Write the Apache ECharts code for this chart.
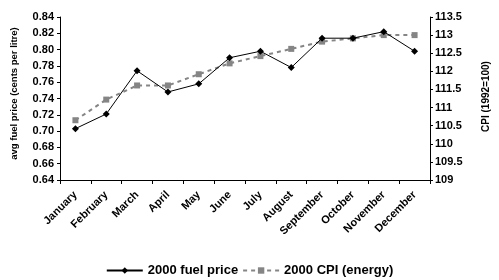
<!DOCTYPE html>
<html>
<head>
    <meta charset="utf-8" />
    <script src="https://cdn.jsdelivr.net/npm/echarts@6/dist/echarts.min.js"></script>
    <style>
        body { margin: 0; background: #fff; }
        #main { width: 499px; height: 280px; }
    </style>
</head>
<body>
<div id="main"></div>
<script type="text/javascript">
    let months = ['January', 'February', 'March', 'April', 'May', 'June', 'July', 'August', 'September', 'October', 'November', 'December']
    let fuelPrice = [0.703, 0.721, 0.774, 0.748, 0.758, 0.790, 0.798, 0.778, 0.814, 0.814, 0.822, 0.798]
    let cpiEnergy = [110.65, 111.22, 111.61, 111.61, 111.92, 112.22, 112.42, 112.62, 112.82, 112.91, 113.0, 113.0]

    let fontFamily = 'Liberation Sans, Arial, sans-serif'
    let colorFuel = '#000000'
    let colorCpi = '#858585'

    let myChart = echarts.init(document.getElementById('main'))

    let axisLineStyle = { show: true, lineStyle: { color: '#000', width: 1 } }
    let labelStyle = { color: '#000', fontFamily: fontFamily, fontWeight: 'bold', fontSize: 11 }

    myChart.setOption({
        animation: false,
        grid: {
            left: 60,
            right: 54,
            top: 17,
            bottom: 100,
        },
        legend: {
            bottom: 3,
            left: 'center',
            padding: 0,
            itemWidth: 36,
            itemHeight: 8,
            itemGap: 4,
            textStyle: { color: '#000', fontFamily: fontFamily, fontWeight: 'bold', fontSize: 13 },
            data: ['2000 fuel price', '2000 CPI (energy)'],
        },
        xAxis: {
            type: 'category',
            data: months,
            boundaryGap: true,
            axisLine: axisLineStyle,
            axisTick: { show: true, length: 4, lineStyle: { color: '#000' } },
            axisLabel: Object.assign({}, labelStyle, { rotate: 45, fontSize: 11, margin: 13, interval: 0 }),
            splitLine: { show: false },
        },
        yAxis: [
            {
                type: 'value',
                min: 0.64,
                max: 0.84,
                interval: 0.02,
                position: 'left',
                name: 'avg fuel price (cents per litre)',
                nameLocation: 'middle',
                nameGap: 41,
                nameRotate: 90,
                nameTextStyle: { color: '#000', fontFamily: fontFamily, fontWeight: 'bold', fontSize: 9.5, padding: [0, 0, 0, 10] },
                axisLine: axisLineStyle,
                axisTick: { show: true, length: 3, lineStyle: { color: '#000' } },
                axisLabel: Object.assign({}, labelStyle, {
                    margin: 6,
                    formatter: function (v) { return v.toFixed(2) }
                }),
                splitLine: { show: false },
            },
            {
                type: 'value',
                min: 109,
                max: 113.5,
                interval: 0.5,
                position: 'right',
                name: 'CPI (1992=100)',
                nameLocation: 'middle',
                nameGap: 51,
                nameRotate: 90,
                nameTextStyle: { color: '#000', fontFamily: fontFamily, fontWeight: 'bold', fontSize: 10, padding: [0, 0, 0, 4] },
                axisLine: axisLineStyle,
                axisTick: { show: true, length: 3, lineStyle: { color: '#000' } },
                axisLabel: Object.assign({}, labelStyle, { margin: 5 }),
                splitLine: { show: false },
            },
        ],
        series: [
            {
                name: '2000 fuel price',
                type: 'line',
                yAxisIndex: 0,
                data: fuelPrice,
                symbol: 'diamond',
                symbolSize: 7,
                lineStyle: { color: colorFuel, width: 1 },
                itemStyle: { color: colorFuel },
                z: 3,
            },
            {
                name: '2000 CPI (energy)',
                type: 'line',
                yAxisIndex: 1,
                data: cpiEnergy,
                symbol: 'rect',
                symbolSize: 6,
                lineStyle: { color: colorCpi, width: 2, type: [4, 4] },
                itemStyle: { color: colorCpi },
                z: 2,
            },
        ],
    })
</script>
</body>
</html>
